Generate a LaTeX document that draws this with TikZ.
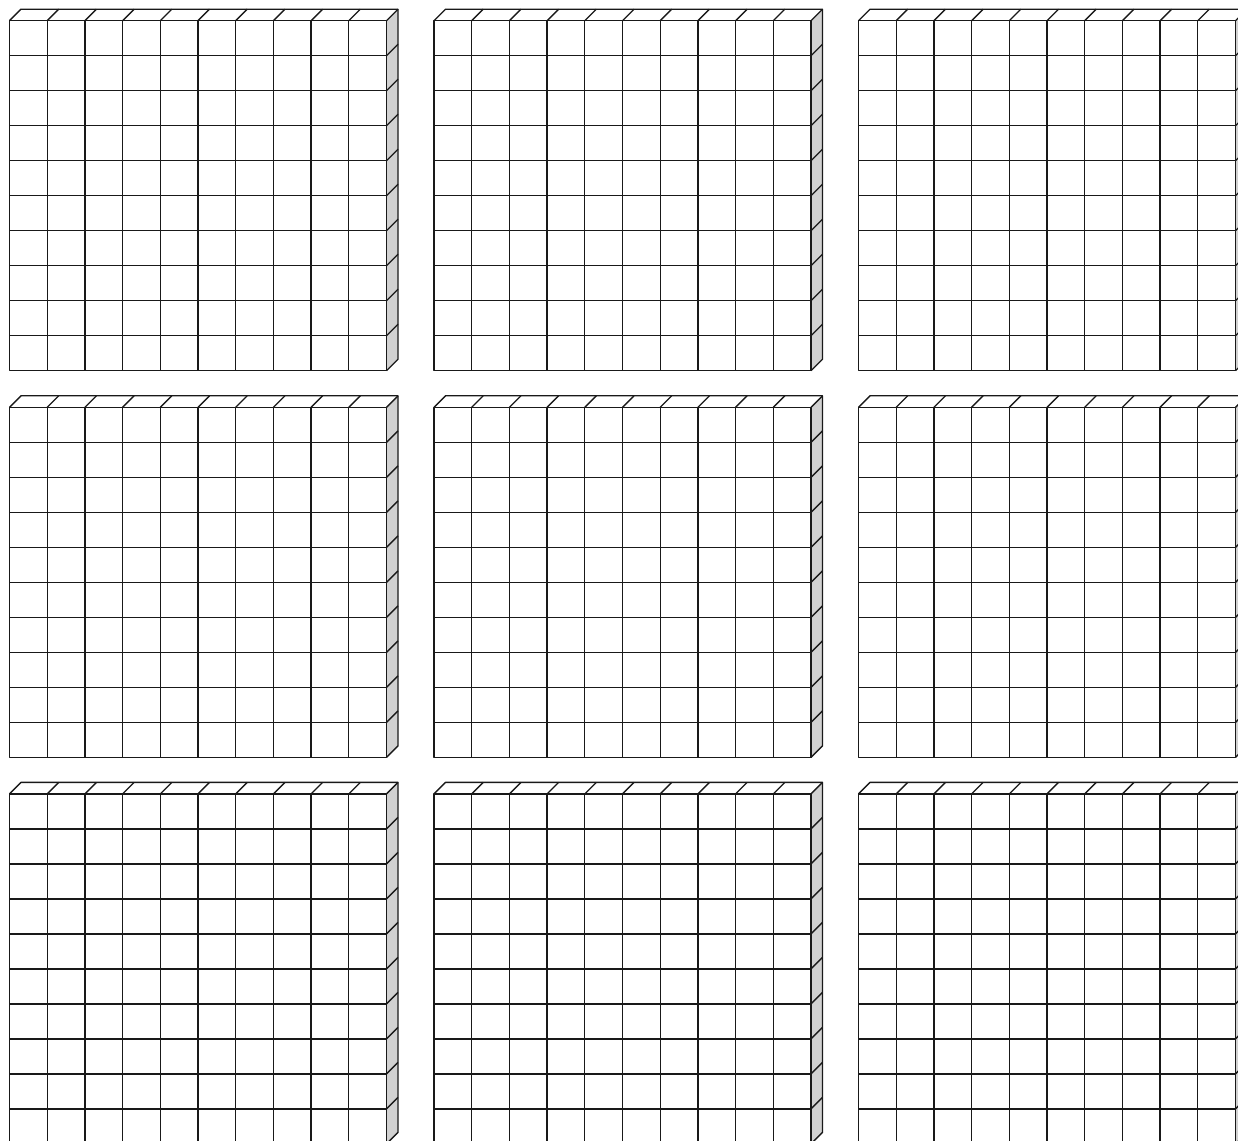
\documentclass[tikz,border=0pt]{standalone}
\usetikzlibrary{calc}
\definecolor{sidegray}{gray}{0.82}
\newcommand{\cellw}{37.7}
\newcommand{\cellh}{35}
\newcommand{\depth}{11.5}
\newcommand{\hundredflat}[2]{%
\begin{scope}[shift={(#1,#2)}]
\fill[sidegray] (10*\cellw,0) -- ++(\depth,-\depth) -- ++(0,10*\cellh) -- (10*\cellw,10*\cellh) -- cycle;
\draw[flatline] (0,0) rectangle (10*\cellw,10*\cellh);
\foreach \i in {1,...,9}
  \draw[flatline] (\i*\cellw,0) -- (\i*\cellw,10*\cellh);
\foreach \j in {1,...,9}
  \draw[flatline] (0,\j*\cellh) -- (10*\cellw,\j*\cellh);
\draw[flatline] (0,0) -- ++(\depth,-\depth) -- ++(10*\cellw,0) -- ++(0,10*\cellh) -- (10*\cellw,10*\cellh);
\foreach \i in {1,...,10}
  \draw[flatline] (\i*\cellw,0) -- ++(\depth,-\depth);
\foreach \j in {1,...,9}
  \draw[flatline] (10*\cellw,\j*\cellh) -- ++(\depth,-\depth);
\end{scope}}

\begin{document}
\begin{tikzpicture}[x=1pt, y=-1pt, flatline/.style={line width=1.35pt, black!90, line join=round}]
\useasboundingbox (0,0) rectangle (1238,1140);
\clip (0,0) rectangle (1238,1140);
\foreach \cx in {9.5,434,858.5}
  \foreach \cy in {20.7,407.3,793.9}
    \hundredflat{\cx}{\cy};
\end{tikzpicture}
\end{document}
